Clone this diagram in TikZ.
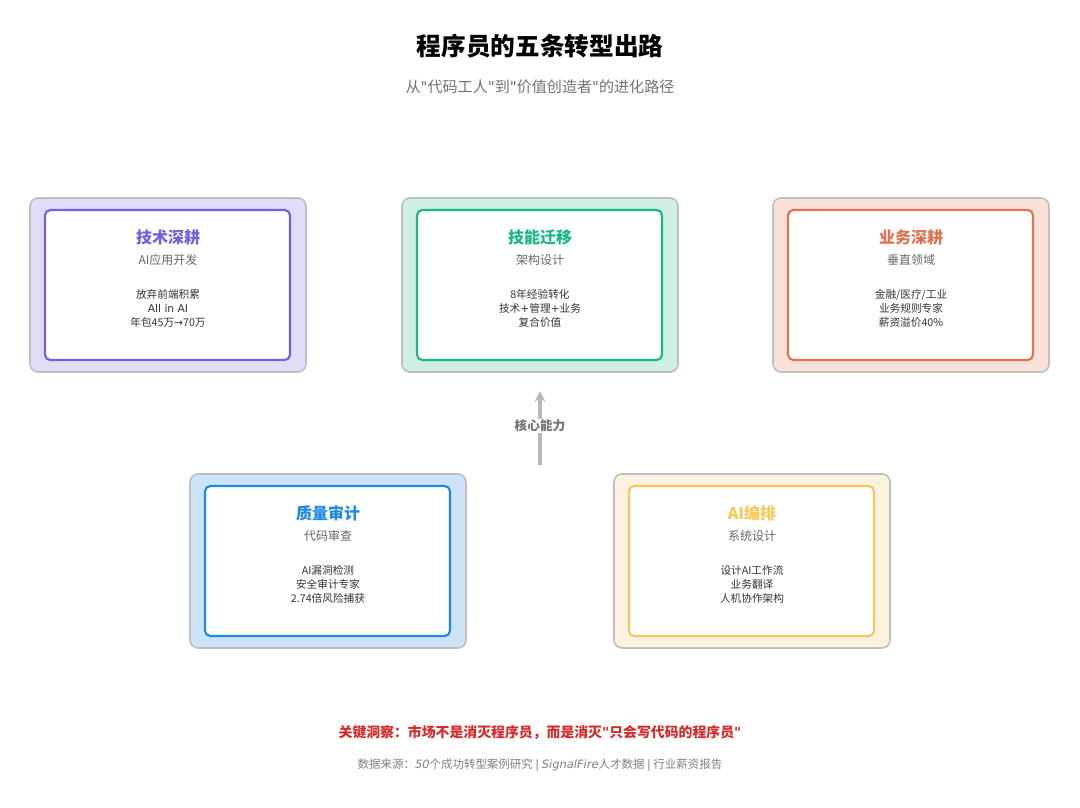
\documentclass[tikz,border=0pt]{standalone}
\usepackage{fontspec}
\setmainfont{Noto Sans CJK SC}
\newfontfamily\dv{DejaVu Sans}
\newcommand{\qq}{{\dv"}}
\usetikzlibrary{arrows.meta}
\definecolor{pu}{HTML}{7260DC}\definecolor{puf}{HTML}{E1DDF8}
\definecolor{gr}{HTML}{1AB68A}\definecolor{grf}{HTML}{CFEFE4}
\definecolor{or}{HTML}{E07252}\definecolor{orf}{HTML}{F9E1D9}
\definecolor{bl}{HTML}{1E88E5}\definecolor{blf}{HTML}{CDE4F8}
\definecolor{ye}{HTML}{F5C85A}\definecolor{yef}{HTML}{FDF2DF}
\definecolor{tx}{HTML}{333333}\definecolor{rd}{HTML}{D42A2A}
\tikzset{
 outer/.style={draw=black!25,line width=1.2pt,rounded corners=6pt},
 inner/.style={fill=white,line width=1.6pt,rounded corners=4pt},
 btitle/.style={font=\fontsize{12}{13}\selectfont\bfseries},
 bsub/.style={font=\fontsize{9}{11}\selectfont,text=black!60},
 bbody/.style={font=\fontsize{8}{10.5}\selectfont,text=tx,align=center},
}
\newcommand{\card}[8]{% x y col fill title sub body name
 \draw[outer,fill=#4] (#1-138,#2-87) rectangle (#1+138,#2+87);
 \draw[inner,draw=#3] (#1-123,#2-75) rectangle (#1+122,#2+75);
 \node[btitle,text=#3] (#8t) at (#1,#2-48) {#5};
 \node[bsub] (#8s) at (#1,#2-25) {#6};
 \node[bbody] (#8b) at (#1,#2+23) {#7};
}
\begin{document}
\begin{tikzpicture}[x=0.75pt,y=-0.75pt]
\useasboundingbox[fill=white] (0,0) rectangle (1080,807);
\node[font=\fontsize{18.5}{20}\selectfont\bfseries] (title) at (540,46) {程序员的五条转型出路};
\node[font=\fontsize{11.3}{13}\selectfont,text=black!55] (sub) at (540,87) {从\qq 代码工人\qq 到\qq 价值创造者\qq 的进化路径};
\card{168}{285}{pu}{puf}{技术深耕}{AI应用开发}{放弃前端积累\\{\dv All in AI}\\年包45万{\dv →}70万}{a}
\card{540}{285}{gr}{grf}{技能迁移}{架构设计}{8年经验转化\\技术{\dv +}管理{\dv +}业务\\复合价值}{b}
\card{911}{285}{or}{orf}{业务深耕}{垂直领域}{金融/医疗/工业\\业务规则专家\\薪资溢价40\%}{c}
\card{328}{561}{bl}{blf}{质量审计}{代码审查}{AI漏洞检测\\安全审计专家\\2.74倍风险捕获}{d}
\card{752}{561}{ye}{yef}{AI编排}{系统设计}{设计AI工作流\\业务翻译\\人机协作架构}{e}
\coordinate (s) at (540,465);\coordinate (t) at (540,391);
\draw[black!28,line width=3pt,-{Stealth[length=8pt,width=8pt]}] (s) -- (t);
\node[fill=white,inner sep=1pt,font=\fontsize{9.5}{11}\selectfont\bfseries,text=black!55] (core) at (540,426) {核心能力};
\node[font=\fontsize{10.4}{12}\selectfont\bfseries,text=rd] (key) at (540,733) {关键洞察：市场不是消灭程序员，而是消灭\qq 只会写代码的程序员\qq};
\node[font=\fontsize{8.6}{10}\selectfont,text=black!50] (src) at (540,765) {数据来源：{\dv\itshape 50}个成功转型案例研究 {\dv |} {\dv\itshape SignalFire}人才数据 {\dv |} 行业薪资报告};
\end{tikzpicture}
\end{document}
